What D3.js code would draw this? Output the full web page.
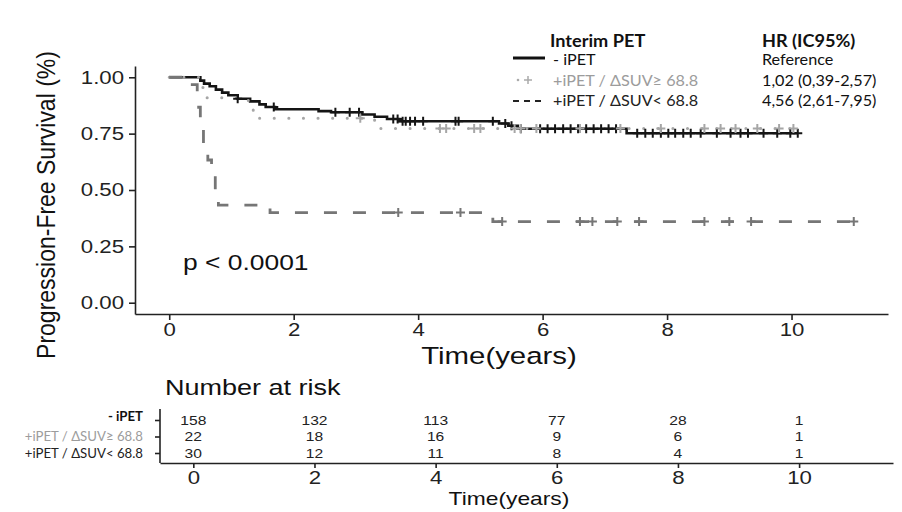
<!DOCTYPE html>
<html>
<head>
<meta charset="utf-8">
<script src="https://cdn.jsdelivr.net/npm/d3@7"></script>
<style>
  body { margin: 0; background: #fff; }
</style>
</head>
<body>
<div id="chart"></div>
<script>
// ---- data ----
const groups = ["- iPET", "+iPET / ΔSUV≥ 68.8", "+iPET / ΔSUV< 68.8"];
const riskLabels = ["- iPET", "+iPET  / ΔSUV≥ 68.8", "+iPET  / ΔSUV< 68.8"];
const hrLabels = ["Reference", "1,02 (0,39-2,57)", "4,56 (2,61-7,95)"];

// Kaplan-Meier steps [time, survival]
const stepsNeg = [[0, 1], [0.5, 0.985], [0.56, 0.972], [0.65, 0.96], [0.75, 0.945], [0.85, 0.932],
  [0.95, 0.92], [1.1, 0.905], [1.3, 0.893], [1.45, 0.88], [1.55, 0.868], [1.7, 0.858],
  [2.4, 0.85], [2.6, 0.845], [3.1, 0.835], [3.3, 0.825], [3.5, 0.815], [3.7, 0.805],
  [5.3, 0.795], [5.45, 0.785], [5.6, 0.772], [7.35, 0.752]];
const stepsHigh = [[0, 1], [0.5, 0.955], [0.58, 0.909], [1.27, 0.864], [1.35, 0.818], [3.3, 0.773]];
const stepsLow = [[0, 1], [0.37, 0.967], [0.45, 0.867], [0.5, 0.8], [0.55, 0.7], [0.62, 0.633],
  [0.68, 0.567], [0.74, 0.5], [0.79, 0.433], [1.62, 0.4], [5.2, 0.36]];
const endNeg = 10.1, endHigh = 10.03, endLow = 11.0;

// censoring times
const censNeg = [1.1, 1.68, 2.67, 2.9, 3.05, 3.6, 3.67, 3.75, 3.8, 3.87, 3.95, 4.08, 4.6, 4.65,
  5.2, 5.4, 5.5, 5.65, 5.96, 6.08, 6.2, 6.33, 6.45, 6.57, 6.7, 6.82, 6.94, 7.06, 7.18,
  7.52, 7.65, 7.77, 7.9, 8.02, 8.13, 8.26, 8.38, 8.54, 8.8, 9.02, 9.18, 9.3, 9.55, 9.77, 9.98, 10.1];
const censHigh = [3.07, 4.35, 4.45, 4.9, 5.0, 5.55, 5.65, 5.9, 6.6, 7.25, 7.9, 8.6, 8.86, 9.1, 9.45, 9.8, 10.03];
const censLow = [3.68, 4.68, 5.35, 6.6, 6.8, 7.2, 7.55, 8.6, 9.0, 9.35, 11.0];

// number at risk
const riskTimes = [0, 2, 4, 6, 8, 10];
const riskNeg = [158, 132, 113, 77, 28, 1];
const riskHigh = [22, 18, 16, 9, 6, 1];
const riskLow = [30, 12, 11, 8, 4, 1];

const xTicks = [0, 2, 4, 6, 8, 10];
const yTicks = [0, 0.25, 0.5, 0.75, 1];

// ---- setup ----
const width = 902, height = 512;
const SX = 1.2; // the figure is stretched horizontally
const AX_FONT = "'Liberation Sans', Arial, sans-serif";
const LEG_FONT = "Lato, 'Open Sans', sans-serif";

const series = [
  { steps: stepsNeg, end: endNeg, cens: censNeg, color: "#151515", dash: null, w: 2.6 },
  { steps: stepsHigh, end: endHigh, cens: censHigh, color: "#a6a6a6", dash: "0.1 14.5", w: 3 },
  { steps: stepsLow, end: endLow, cens: censLow, color: "#767676", dash: "13 16", w: 2.8 }
];

const svg = d3.select("#chart")
  .append("svg")
  .attr("width", width)
  .attr("height", height)
  .style("background", "#fff");

function stretch(sel, k = SX) {
  sel.each(function() {
    const w = this.getComputedTextLength();
    d3.select(this).attr("textLength", w * k).attr("lengthAdjust", "spacingAndGlyphs");
  });
}

function survAt(steps, t) {
  let s = 1;
  for (const [tt, v] of steps) if (tt <= t) s = v;
  return s;
}

// ---- main KM panel ----
const x = d3.scaleLinear().domain([-0.55, 11.55]).range([135, 888]);
const y = d3.scaleLinear().domain([-0.05, 1.05]).range([314, 66]);

const gx = svg.append("g")
  .attr("transform", `translate(0,${y.range()[0]})`)
  .call(d3.axisBottom(x).tickValues(xTicks).tickSize(6).tickSizeOuter(0).tickPadding(3));
const gy = svg.append("g")
  .attr("transform", `translate(${x.range()[0]},0)`)
  .call(d3.axisLeft(y).tickValues(yTicks).tickFormat(d3.format(".2f")).tickSize(6).tickSizeOuter(0).tickPadding(5));

[gx, gy].forEach(g => {
  g.select(".domain").attr("stroke", "#222").attr("stroke-width", 1.6);
  g.selectAll(".tick line").attr("stroke", "#222").attr("stroke-width", 1.6);
  g.selectAll(".tick text")
    .attr("fill", "#222")
    .style("font-family", AX_FONT)
    .style("font-size", "18.5px")
    .call(stretch);
});

const line = d3.line()
  .x(d => x(d[0]))
  .y(d => y(d[1]))
  .curve(d3.curveStepAfter);

series.forEach(s => {
  const pts = s.steps.concat([[s.end, s.steps[s.steps.length - 1][1]]]);
  svg.append("path")
    .datum(pts)
    .attr("d", line)
    .attr("fill", "none")
    .attr("stroke", s.color)
    .attr("stroke-width", s.w)
    .attr("stroke-linecap", s.dash && s.dash.startsWith("0.1") ? "round" : "butt")
    .attr("stroke-dasharray", s.dash);
});

series.forEach(s => {
  svg.append("g").selectAll("path")
    .data(s.cens)
    .join("path")
    .attr("d", t => {
      const cx = x(t), cy = y(survAt(s.steps, t));
      return `M${cx - 4.5},${cy}H${cx + 4.5}M${cx},${cy - 4.5}V${cy + 4.5}`;
    })
    .attr("stroke", s.color)
    .attr("stroke-width", 2);
});

svg.append("text")
  .attr("x", 183).attr("y", 270)
  .attr("fill", "#111")
  .style("font-family", AX_FONT)
  .style("font-size", "22px")
  .text("p < 0.0001")
  .call(stretch);

svg.append("text")
  .attr("x", 499).attr("y", 364)
  .attr("text-anchor", "middle")
  .attr("fill", "#111")
  .style("font-family", AX_FONT)
  .style("font-size", "24.5px")
  .text("Time(years)")
  .call(stretch);

svg.append("text")
  .attr("transform", "translate(55,205) rotate(-90) scale(1,1.15)")
  .attr("text-anchor", "middle")
  .attr("fill", "#111")
  .style("font-family", AX_FONT)
  .style("font-size", "23px")
  .text("Progression-Free Survival (%)");

// ---- legend ----
const leg = svg.append("g").style("font-family", LEG_FONT);
leg.append("text").attr("x", 550).attr("y", 47)
  .style("font-size", "16.5px").style("font-weight", "bold").attr("fill", "#111")
  .text("Interim PET").call(stretch, 1.1);
leg.append("text").attr("x", 762).attr("y", 47)
  .style("font-size", "16.5px").style("font-weight", "bold").attr("fill", "#111")
  .text("HR (IC95%)").call(stretch, 1.1);

const legY = [65, 86, 106];
const legColor = ["#111", "#9c9c9c", "#222"];
groups.forEach((g, i) => {
  leg.append("text").attr("x", 553).attr("y", legY[i])
    .style("font-size", "15px").attr("fill", legColor[i])
    .text(g).call(stretch, 1.08);
  leg.append("text").attr("x", 762).attr("y", legY[i])
    .style("font-size", "15px").attr("fill", "#111")
    .text(hrLabels[i]).call(stretch, 1.08);
});
// legend keys
leg.append("line").attr("x1", 513).attr("x2", 545).attr("y1", 58).attr("y2", 58)
  .attr("stroke", "#111").attr("stroke-width", 3);
leg.append("circle").attr("cx", 518).attr("cy", 80).attr("r", 1.3).attr("fill", "#aaa");
leg.append("path").attr("d", "M524,80H532M528,76V84").attr("stroke", "#aaa").attr("stroke-width", 1.5);
leg.append("line").attr("x1", 513).attr("x2", 541).attr("y1", 101).attr("y2", 101)
  .attr("stroke", "#222").attr("stroke-width", 2).attr("stroke-dasharray", "6 5");

// ---- number at risk table ----
svg.append("text")
  .attr("x", 165).attr("y", 395)
  .attr("fill", "#111")
  .style("font-family", AX_FONT)
  .style("font-size", "22.5px")
  .text("Number at risk")
  .call(stretch);

const rx = d3.scaleLinear().domain([-0.55, 11.55]).range([160, 893]);
const ry = d3.scalePoint().domain(groups).range([420, 453]);

const grx = svg.append("g")
  .attr("transform", "translate(0,463)")
  .call(d3.axisBottom(rx).tickValues(xTicks).tickSize(5).tickSizeOuter(0).tickPadding(3));
const gry = svg.append("g")
  .attr("transform", "translate(160,0)")
  .call(d3.axisLeft(ry).tickSize(5).tickSizeOuter(0).tickFormat(""));
gry.select(".domain").attr("d", "M0,409V463");
[grx, gry].forEach(g => {
  g.select(".domain").attr("stroke", "#222").attr("stroke-width", 1.6);
  g.selectAll(".tick line").attr("stroke", "#222").attr("stroke-width", 1.6);
});
grx.selectAll(".tick text")
  .attr("fill", "#222")
  .style("font-family", AX_FONT)
  .style("font-size", "18.5px")
  .call(stretch);

const riskColor = ["#111", "#9c9c9c", "#222"];
groups.forEach((g, i) => {
  svg.append("text")
    .attr("x", 143).attr("y", ry(g) - (i === 0 ? 4 : 0))
    .attr("dy", "0.35em")
    .attr("text-anchor", "end")
    .attr("fill", riskColor[i])
    .style("font-family", LEG_FONT)
    .style("font-size", "13.2px")
    .style("font-weight", i === 0 ? "bold" : "normal")
    .text(riskLabels[i]);
});

[riskNeg, riskHigh, riskLow].forEach((vals, i) => {
  svg.append("g").selectAll("text")
    .data(vals)
    .join("text")
    .attr("x", (d, j) => rx(riskTimes[j]))
    .attr("y", ry(groups[i]))
    .attr("dy", "0.35em")
    .attr("text-anchor", "middle")
    .attr("fill", "#222")
    .style("font-family", AX_FONT)
    .style("font-size", "13px")
    .text(d => d)
    .call(stretch);
});

svg.append("text")
  .attr("x", 509).attr("y", 505)
  .attr("text-anchor", "middle")
  .attr("fill", "#111")
  .style("font-family", AX_FONT)
  .style("font-size", "19px")
  .text("Time(years)")
  .call(stretch);
</script>
</body>
</html>
